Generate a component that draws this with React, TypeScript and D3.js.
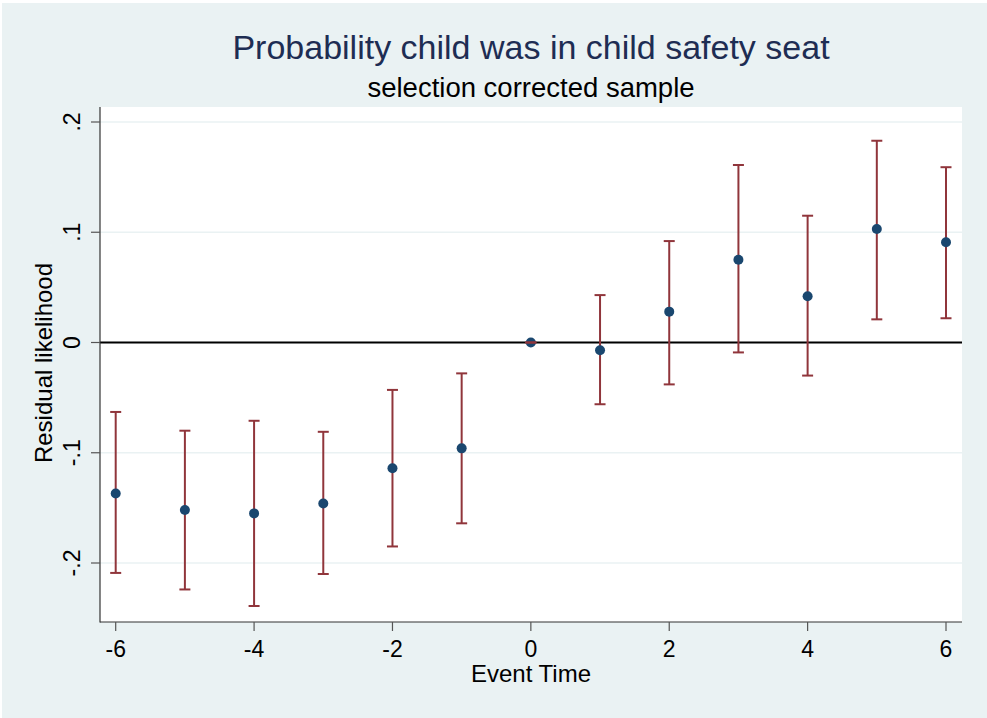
import React from "react";
import * as d3 from "d3";

// event time, point estimate, lower and upper 95% CI
const eventTimes = [-6, -5, -4, -3, -2, -1, 0, 1, 2, 3, 4, 5, 6];
const estimates = [-0.137, -0.152, -0.155, -0.146, -0.114, -0.096, 0, -0.007, 0.028, 0.075, 0.042, 0.103, 0.091];
const lowerCI = [-0.209, -0.224, -0.239, -0.21, -0.185, -0.164, 0, -0.056, -0.038, -0.009, -0.03, 0.021, 0.022];
const upperCI = [-0.063, -0.08, -0.071, -0.081, -0.043, -0.028, 0, 0.043, 0.092, 0.161, 0.115, 0.183, 0.159];
const xTicks = [-6, -4, -2, 0, 2, 4, 6];
const yTicks = [-0.2, -0.1, 0, 0.1, 0.2];
const yTickLabels = ["-.2", "-.1", "0", ".1", ".2"];

const W = 987;
const H = 718;
const plot = { left: 100, right: 962, top: 107, bottom: 622 };
const bg = "#EAF2F3";
const font = "'Liberation Sans', Arial, sans-serif";

const App: React.FC = () => {
  const x = d3.scaleLinear().domain([-6, 6]).range([115.7, 946]);
  const y = d3.scaleLinear().domain([0, 0.2]).range([342.5, 122]);
  const capW = 9;

  return (
    <svg
      width={W}
      height={H}
      style={{ position: "absolute", left: 0, top: 0, fontFamily: font }}
    >
      <rect x={0} y={0} width={W} height={H} fill="#fff" />
      <rect x={2} y={3} width={W - 2} height={H - 3} fill={bg} />
      <rect
        x={plot.left}
        y={plot.top}
        width={plot.right - plot.left}
        height={plot.bottom - plot.top}
        fill="#fff"
      />

      {/* gridlines */}
      {yTicks.map((t) => (
        <line
          key={"g" + t}
          x1={plot.left}
          x2={plot.right}
          y1={y(t)}
          y2={y(t)}
          stroke={bg}
          strokeWidth={1.5}
        />
      ))}

      {/* reference line at zero */}
      <line x1={plot.left} x2={plot.right} y1={y(0)} y2={y(0)} stroke="#000" strokeWidth={2} />

      {/* CI stems */}
      {eventTimes.map((t, i) => (
        <line
          key={"s" + t}
          x1={x(t)}
          x2={x(t)}
          y1={y(lowerCI[i])}
          y2={y(upperCI[i])}
          stroke="#90353B"
          strokeWidth={2}
        />
      ))}

      {/* points */}
      {eventTimes.map((t, i) => (
        <circle key={"p" + t} cx={x(t)} cy={y(estimates[i])} r={5} fill="#1A476F" />
      ))}

      {/* CI caps */}
      {eventTimes.map((t, i) => (
        <g key={"c" + t} stroke="#90353B" strokeWidth={2}>
          <line x1={x(t) - capW / 2 - 1} x2={x(t) + capW / 2 + 1} y1={y(upperCI[i])} y2={y(upperCI[i])} />
          <line x1={x(t) - capW / 2 - 1} x2={x(t) + capW / 2 + 1} y1={y(lowerCI[i])} y2={y(lowerCI[i])} />
        </g>
      ))}

      {/* y axis */}
      <line x1={plot.left} x2={plot.left} y1={plot.top} y2={plot.bottom + 0.5} stroke="#333" strokeWidth={1.2} />
      {yTicks.map((t, i) => (
        <g key={"yt" + t}>
          <line x1={plot.left - 9} x2={plot.left} y1={y(t)} y2={y(t)} stroke="#555" strokeWidth={1.2} />
          <text
            transform={`translate(80,${y(t)}) rotate(-90)`}
            textAnchor="middle"
            fontSize={23}
            fill="#000"
          >
            {yTickLabels[i]}
          </text>
        </g>
      ))}
      <text
        transform={`translate(52,${363}) rotate(-90)`}
        textAnchor="middle"
        fontSize={24}
        fill="#000"
      >
        Residual likelihood
      </text>

      {/* x axis */}
      <line x1={plot.left} x2={plot.right} y1={plot.bottom} y2={plot.bottom} stroke="#333" strokeWidth={1.2} />
      {xTicks.map((t) => (
        <g key={"xt" + t}>
          <line x1={x(t)} x2={x(t)} y1={plot.bottom} y2={plot.bottom + 9} stroke="#555" strokeWidth={1.2} />
          <text x={x(t)} y={657} textAnchor="middle" fontSize={23} fill="#000">
            {t}
          </text>
        </g>
      ))}
      <text x={531} y={682} textAnchor="middle" fontSize={24} fill="#000">
        Event Time
      </text>

      {/* titles */}
      <text x={531} y={59} textAnchor="middle" fontSize={34} fill="#1E2D53">
        Probability child was in child safety seat
      </text>
      <text x={531} y={97} textAnchor="middle" fontSize={27.5} fill="#000">
        selection corrected sample
      </text>
    </svg>
  );
};

export default App;
